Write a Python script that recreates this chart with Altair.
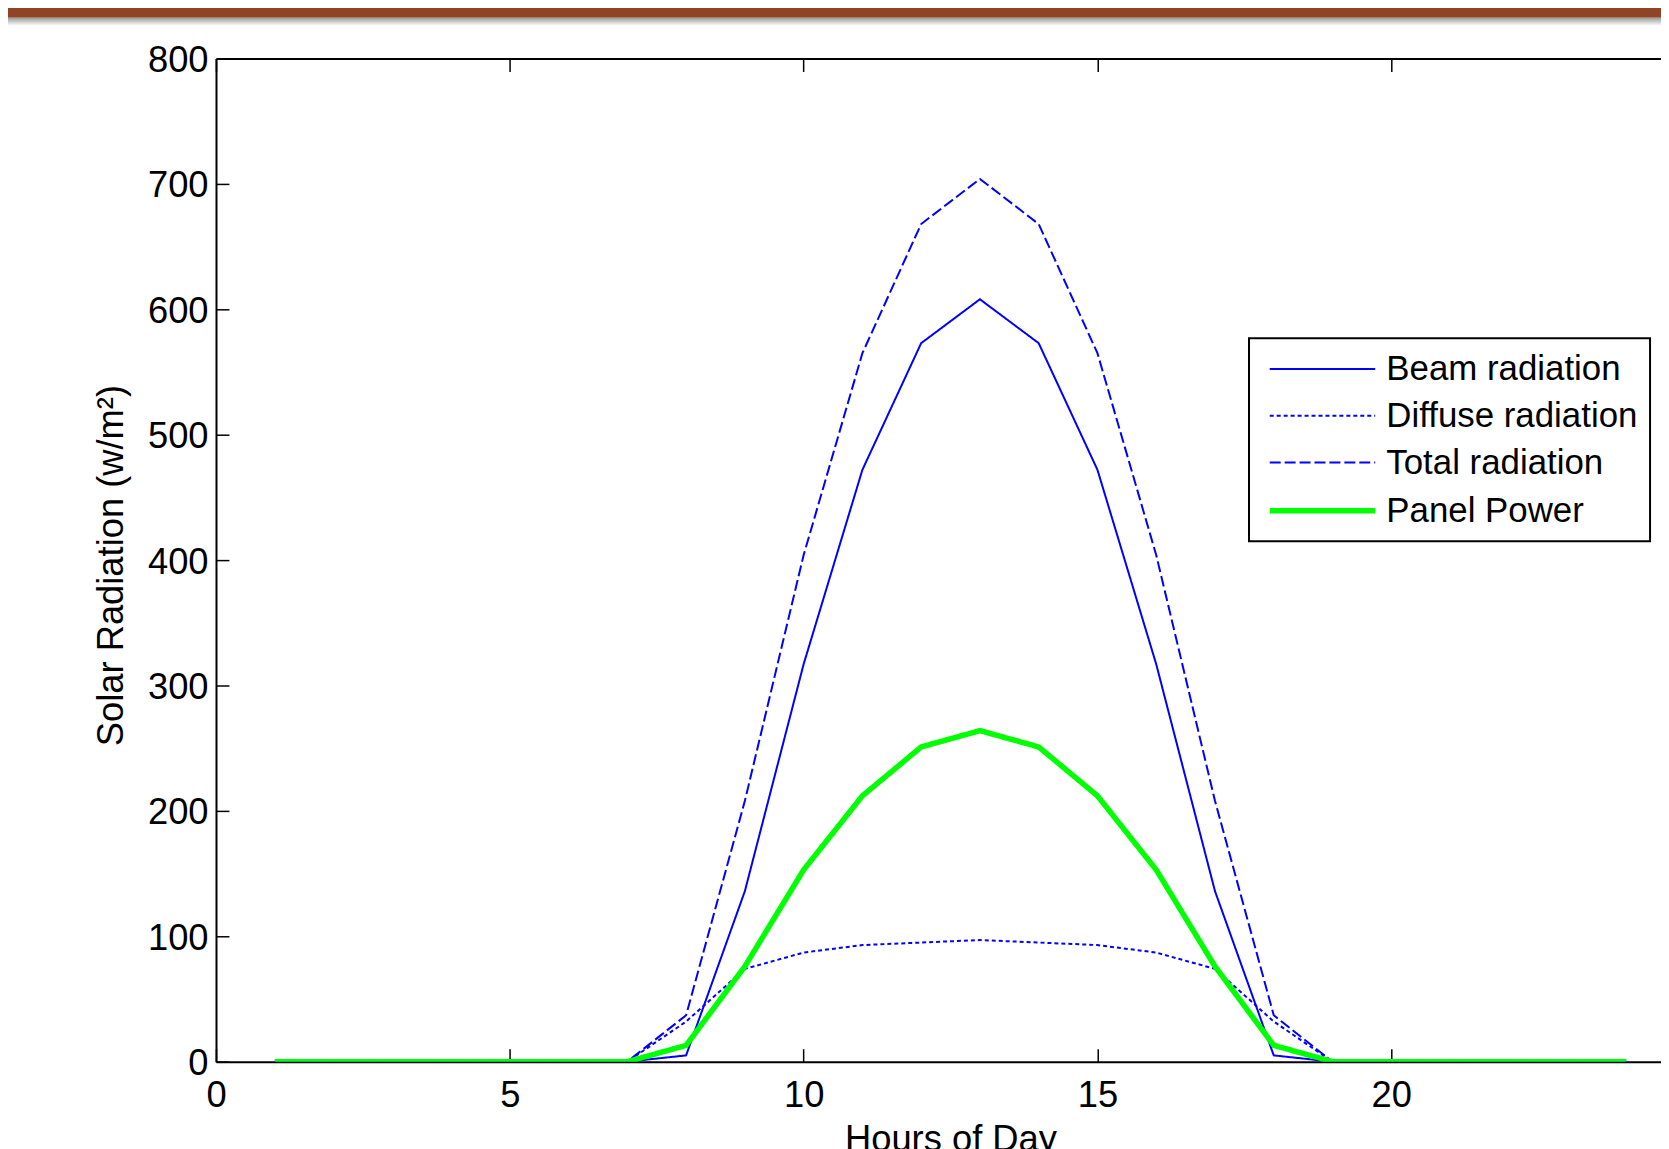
import altair as alt
import pandas as pd

# ---- data ----
hours = list(range(1, 25))
beam = [0, 0, 0, 0, 0, 0, 0, 5, 136, 317, 472, 573, 608, 573, 472, 317, 136, 5, 0, 0, 0, 0, 0, 0]
diffuse = [0, 0, 0, 0, 0, 0, 0, 32, 74, 87, 93, 95, 97, 95, 93, 87, 74, 32, 0, 0, 0, 0, 0, 0]
total = [0, 0, 0, 0, 0, 0, 0, 37, 208, 404, 565, 668, 704, 668, 565, 404, 208, 37, 0, 0, 0, 0, 0, 0]
panel = [0, 0, 0, 0, 0, 0, 0, 13, 76, 153, 212, 251, 264, 251, 212, 153, 76, 13, 0, 0, 0, 0, 0, 0]
series = ["Beam radiation", "Diffuse radiation", "Total radiation", "Panel Power"]
x_ticks = [0, 5, 10, 15, 20]
y_ticks = [0, 100, 200, 300, 400, 500, 600, 700, 800]

rows = []
for name, vals in zip(series, [beam, diffuse, total, panel]):
    for h, v in zip(hours, vals):
        rows.append({"hour": h, "value": v, "series": name})
df = pd.DataFrame(rows)

FONT = "Liberation Sans"
FS = 36.5
W, H = 1452, 1008
XMAX = 24.59
INWARD = {"expr": "-13"}

xscale = alt.Scale(domain=[0, XMAX], nice=False, zero=False)
yscale = alt.Scale(domain=[0, 800], nice=False)

x_bottom = alt.X(
    "hour:Q", scale=xscale,
    axis=alt.Axis(orient="bottom", values=x_ticks, title="Hours of Day",
                  tickSize=INWARD, labelPadding=29, labelFlush=False,
                  titleX=738, titleY=60, titleAlign="center", titleBaseline="top"))
y_left = alt.Y(
    "value:Q", scale=yscale,
    axis=alt.Axis(orient="left", values=y_ticks, title="Solar Radiation (w/m²)",
                  tickSize=INWARD, labelPadding=21, labelFlush=False, labelOffset=2,
                  titleAngle=270, titleX=-105, titleY=509,
                  titleAlign="center", titleBaseline="middle"))

lines = alt.Chart(df).mark_line(clip=True).encode(
    x=x_bottom,
    y=y_left,
    color=alt.Color("series:O", sort=series,
                    scale=alt.Scale(type="ordinal", domain=series,
                                    range=["#0000ff", "#0000ff", "#0000ff", "#00ff00"]),
                    legend=alt.Legend(title=None)),
    strokeDash=alt.StrokeDash("series:O", sort=series,
                              scale=alt.Scale(type="ordinal", domain=series,
                                              range=[[1, 0], [4, 3], [11, 4], [1, 0]]),
                              legend=alt.Legend(title=None)),
    strokeWidth=alt.StrokeWidth("series:O", sort=series,
                                scale=alt.Scale(type="ordinal", domain=series,
                                                range=[2, 2, 2, 5.5]),
                                legend=alt.Legend(title=None)),
)

frame = alt.Chart(df).mark_point(opacity=0).encode(
    x=alt.X("hour:Q", scale=xscale,
            axis=alt.Axis(orient="top", values=x_ticks, labels=False, title=None,
                          tickSize=INWARD)),
)

deco = pd.DataFrame({"k": [0]})
bar = alt.Chart(deco).mark_rect(color="#914425").encode(
    x=alt.value(-209), x2=alt.value(W), y=alt.value(-56), y2=alt.value(-41))
shadow = alt.Chart(deco).mark_rect(
    color=alt.LinearGradient(
        gradient="linear",
        stops=[alt.GradientStop(color="#9a9a9a", offset=0),
               alt.GradientStop(color="#ffffff", offset=1)],
        x1=0, x2=0, y1=0, y2=1)
).encode(x=alt.value(-209), x2=alt.value(W), y=alt.value(-41), y2=alt.value(-33))

chart = alt.layer(bar, shadow, frame, lines).properties(
    width=W, height=H,
    padding={"left": 209, "top": 48, "right": 0, "bottom": 90},
    autosize=alt.AutoSizeParams(type="none"),
).configure_view(stroke=None).configure_axis(
    grid=False,
    domainColor="black", domainWidth=2,
    tickColor="black", tickWidth=1.5,
    labelFont=FONT, labelFontSize=FS, labelColor="black",
    titleFont=FONT, titleFontSize=FS, titleColor="black", titleFontWeight="normal",
).configure_legend(
    orient="none", legendX=1038, legendY=281,
    strokeColor="black", strokeWidth=2, fillColor="white", padding=12,
    labelFont=FONT, labelFontSize=35, labelColor="black", labelLimit=500,
    labelBaseline="middle",
    symbolType="M-1,0H5", symbolSize=1248, symbolOffset=6, labelOffset=79,
    rowPadding=10,
)

chart.save("out.html", embed_options={"renderer": "svg", "actions": False})
